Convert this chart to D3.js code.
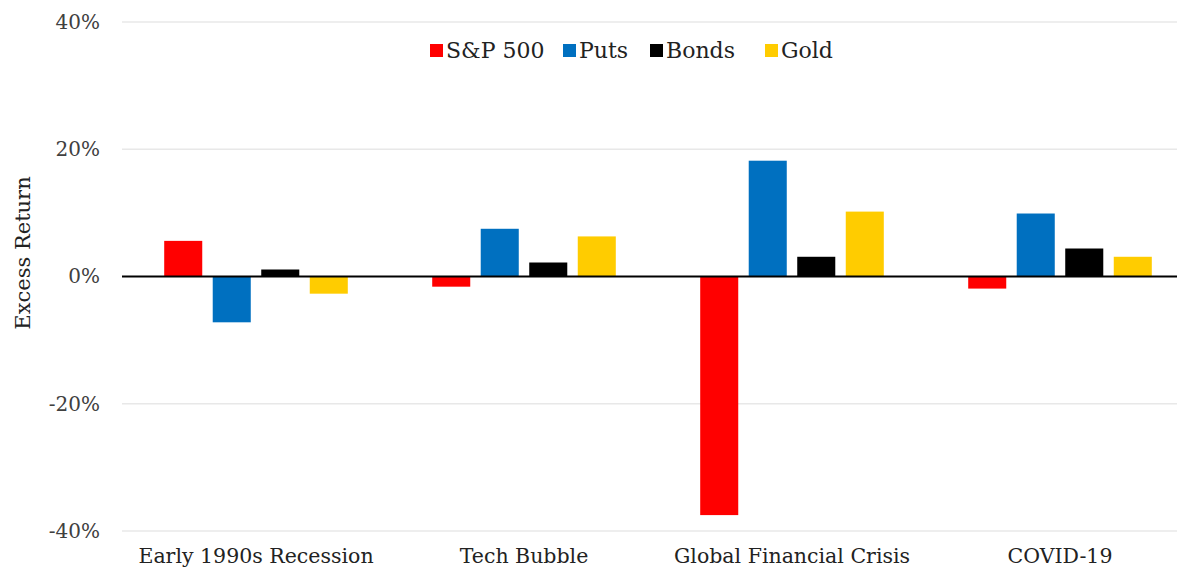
<!DOCTYPE html>
<html>
<head>
<meta charset="utf-8">
<script src="https://cdnjs.cloudflare.com/ajax/libs/d3/7.8.5/d3.min.js"></script>
<style>
  body { margin: 0; background: #fff; }
  svg { font-family: Georgia, 'DejaVu Serif', serif; }
</style>
</head>
<body>
<script>
var categories = ['Early 1990s Recession', 'Tech Bubble', 'Global Financial Crisis', 'COVID-19'];
var seriesNames = ['S&P 500', 'Puts', 'Bonds', 'Gold'];
var seriesColors = ['#ff0000', '#0070c0', '#000000', '#ffcc00'];
var sp500 = [5.6, -1.6, -37.5, -1.9];
var puts = [-7.2, 7.5, 18.2, 9.9];
var bonds = [1.1, 2.2, 3.1, 4.4];
var gold = [-2.7, 6.3, 10.2, 3.1];
var yTicks = [-40, -20, 0, 20, 40];

var width = 1177;
var height = 572;
var margin = {top: 22, bottom: 41, left: 122};

var svg = d3.select('body')
  .append('svg')
  .attr('width', width)
  .attr('height', height);

var allSeries = [sp500, puts, bonds, gold];

// plot area runs a bit past the right edge (chart was cropped)
var x0 = d3.scaleBand()
  .domain(categories)
  .range([margin.left, margin.left + 4 * 268]);

var x1 = d3.scaleBand()
  .domain(seriesNames)
  .range([0, x0.bandwidth()])
  .paddingInner(0.216)
  .paddingOuter(0.87);

var y = d3.scaleLinear()
  .domain([-40, 40])
  .range([height - margin.bottom, margin.top]);

// gridlines
svg.append('g')
  .selectAll('line')
  .data(yTicks.filter(function(d) { return d !== 0; }))
  .enter()
  .append('line')
  .attr('x1', margin.left)
  .attr('x2', width)
  .attr('y1', function(d) { return y(d); })
  .attr('y2', function(d) { return y(d); })
  .attr('stroke', '#e8e8e8')
  .attr('stroke-width', 1.5);

// y axis labels
var yAxis = d3.axisLeft(y)
  .tickValues(yTicks)
  .tickSize(0)
  .tickPadding(22)
  .tickFormat(function(d) { return d + '%'; });

svg.append('g')
  .attr('transform', 'translate(' + margin.left + ',0)')
  .call(yAxis)
  .call(function(g) { g.select('.domain').remove(); })
  .selectAll('text')
  .style('font-family', "Georgia, 'DejaVu Serif', serif")
  .style('font-size', '20px')
  .attr('fill', '#404040');

// bars
var groups = svg.append('g')
  .selectAll('g')
  .data(categories)
  .enter()
  .append('g')
  .attr('transform', function(d) { return 'translate(' + x0(d) + ',0)'; });

groups.selectAll('rect')
  .data(function(d, i) {
    return seriesNames.map(function(s, j) {
      return {name: s, value: allSeries[j][i], color: seriesColors[j]};
    });
  })
  .enter()
  .append('rect')
  .attr('x', function(d) { return x1(d.name); })
  .attr('y', function(d) { return y(Math.max(0, d.value)); })
  .attr('width', x1.bandwidth())
  .attr('height', function(d) { return Math.abs(y(d.value) - y(0)); })
  .attr('fill', function(d) { return d.color; });

// zero line
svg.append('line')
  .attr('x1', margin.left)
  .attr('x2', width)
  .attr('y1', y(0))
  .attr('y2', y(0))
  .attr('stroke', '#000')
  .attr('stroke-width', 2);

// x axis labels
var xAxis = d3.axisBottom(x0)
  .tickSize(0)
  .tickPadding(17);

svg.append('g')
  .attr('transform', 'translate(0,' + (height - margin.bottom) + ')')
  .call(xAxis)
  .call(function(g) { g.select('.domain').remove(); })
  .selectAll('text')
  .style('font-family', "Georgia, 'DejaVu Serif', serif")
  .style('font-size', '20.5px')
  .attr('fill', '#222');

// y title
svg.append('text')
  .attr('transform', 'translate(30,253) rotate(-90)')
  .attr('text-anchor', 'middle')
  .style('font-size', '21px')
  .attr('fill', '#222')
  .text('Excess Return');

// legend
var legendX = [430, 563, 650, 765];
var legend = svg.append('g')
  .selectAll('g')
  .data(seriesNames)
  .enter()
  .append('g')
  .attr('transform', function(d, i) { return 'translate(' + legendX[i] + ',50)'; });

legend.append('rect')
  .attr('x', 0)
  .attr('y', -6)
  .attr('width', 13)
  .attr('height', 13)
  .attr('fill', function(d, i) { return seriesColors[i]; });

legend.append('text')
  .attr('x', 16)
  .attr('y', 8)
  .style('font-size', '22px')
  .attr('fill', '#222')
  .text(function(d) { return d; });
</script>
</body>
</html>
